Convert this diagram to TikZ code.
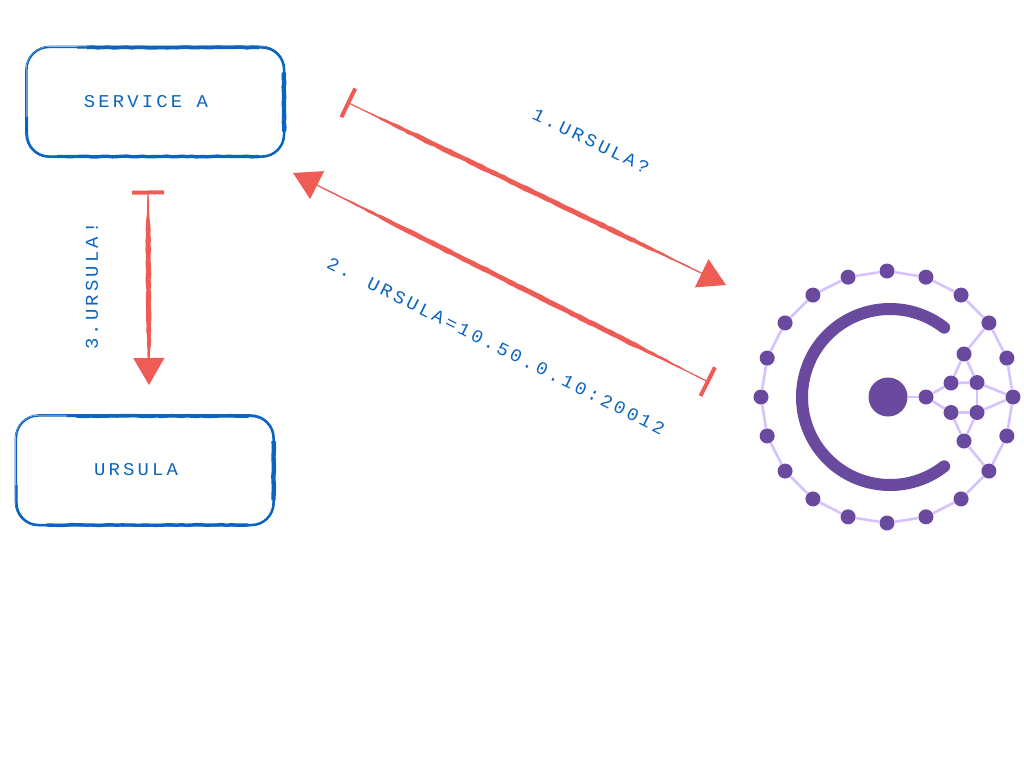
\documentclass[tikz,border=0pt]{standalone}
\usepackage{fontspec}
\usetikzlibrary{arrows.meta,calc,decorations.pathmorphing}
\newfontfamily\stampfont[LetterSpace=17.5,FakeStretch=1.05]{Liberation Mono}
\definecolor{penblue}{HTML}{0B64C0}
\definecolor{penred}{HTML}{EE5C55}
\definecolor{logopurple}{HTML}{694A9E}
\definecolor{logolilac}{HTML}{D6C2FF}
\tikzset{
    sketchbox/.style={draw=penblue, line width=1.4pt, rounded corners=22pt, inner sep=0pt, outer sep=0pt, minimum width=257pt, minimum height=109pt},
    stamp/.style={text=penblue, font=\stampfont\fontsize{18}{18}\selectfont, inner sep=0pt},
    dot/.style={circle, fill=logopurple, inner sep=0pt, minimum size=15pt},
    mesh/.style={draw=logolilac, line width=2.6pt},
    rough/.style={decorate, decoration={random steps, segment length=5pt, amplitude=0.4pt}}
}
\begin{document}
\begin{tikzpicture}[x=1pt, y=-1pt]
                \useasboundingbox (0,0) rectangle (1024,768);

                % the two services
                \node [sketchbox] (svc) at (155.5,102) {};
                \node [sketchbox] (urs) at (145,470.5) {};
                \foreach \b in {svc,urs}{
                    \draw [penblue, line width=2.4pt, rounded corners=22pt] ([xshift=50pt]\b.north west) -- (\b.north east) -- (\b.south east) -- (\b.south west) -- ([yshift=40pt]\b.south west);
                    \draw [penblue, line width=0.6pt, rounded corners=24pt] ([shift={(-1.5pt,1.5pt)}]\b.north west) rectangle ([shift={(1pt,-1pt)}]\b.south east);
                    \draw [penblue, line width=3.6pt, rough] ([xshift=60pt]\b.north west) -- ([xshift=-25pt]\b.north east);
                    \draw [penblue, line width=4.4pt, rough] ([yshift=-25pt]\b.north east) -- ([yshift=25pt]\b.south east);
                    \draw [penblue, line width=3.4pt, rough] ([xshift=30pt]\b.south west) -- ([xshift=-25pt]\b.south east);
                }
                \node [stamp] (svc text) at (146,102) {SERVICE A};
                \node [stamp] (urs text) at (136,470) {URSULA};

                % the calls
                \coordinate (ask from) at (346.5,102);
                \coordinate (ask to) at (726,285);
                \coordinate (tell from) at (709.5,382.5);
                \coordinate (tell to) at (293,173);
                \coordinate (hop from) at (148,190.5);
                \coordinate (hop to) at (149,385);
                \foreach \p/\q in {ask from/ask to, tell from/tell to, hop from/hop to}{
                    \draw [penred, line width=1.2pt, {Bar[width=32pt,line width=4pt]}-{Triangle[length=27pt,width=31pt]}] (\p) -- (\q);
                    \fill [penred, rough] ($(\p)!0.02!(\q)$) -- ($(\p)!0.2!(\q)!2.5pt!90:(\q)$) -- ($(\p)!0.72!(\q)!2.5pt!90:(\q)$) -- ($(\p)!0.95!(\q)$) -- ($(\p)!0.72!(\q)!2.5pt!-90:(\q)$) -- ($(\p)!0.2!(\q)!2.5pt!-90:(\q)$) -- cycle;
                }
                \node [stamp, rotate=-26] (ask text) at (591,141) {1.URSULA?};
                \node [stamp, rotate=-26.6] (tell text) at (496,346) {2. URSULA=10.50.0.10:20012};
                \node [stamp, rotate=90] (hop text) at (92,286) {3.URSULA!};

                % the logo
                \coordinate (logo) at (887,397);
                \coordinate (arc mid) at (890,397);
                \draw [logopurple, line width=12pt, line cap=round] ($(arc mid)+(52:88)$) arc [start angle=52, end angle=308, radius=88];
                \node [dot, minimum size=39pt] (hub) at (888,397) {};
                \foreach \i in {0,...,19}
                    \node [dot] (ring\i) at ($(logo)+(18*\i:126)$) {};
                \foreach \i in {0,...,19}{
                    \pgfmathtruncatemacro{\j}{mod(\i+1,20)}
                    \draw [mesh] (ring\i) -- (ring\j);
                }
                \node [dot] (n0) at (926,397) {};
                \node [dot] (n1) at (951,383) {};
                \node [dot] (n2) at (977,382.5) {};
                \node [dot] (n3) at (951,412.5) {};
                \node [dot] (n4) at (977,412.5) {};
                \node [dot] (n5) at (964,354) {};
                \node [dot] (n6) at (964,441) {};
                \foreach \p/\q in {hub/n0, n0/n1, n0/n3, n1/n2, n3/n4, n2/n4, n5/n1, n5/n2, n6/n3, n6/n4, n5/ring18, n6/ring2, n2/ring0, n4/ring0}
                    \draw [mesh] (\p) -- (\q);
            \end{tikzpicture}
\end{document}
